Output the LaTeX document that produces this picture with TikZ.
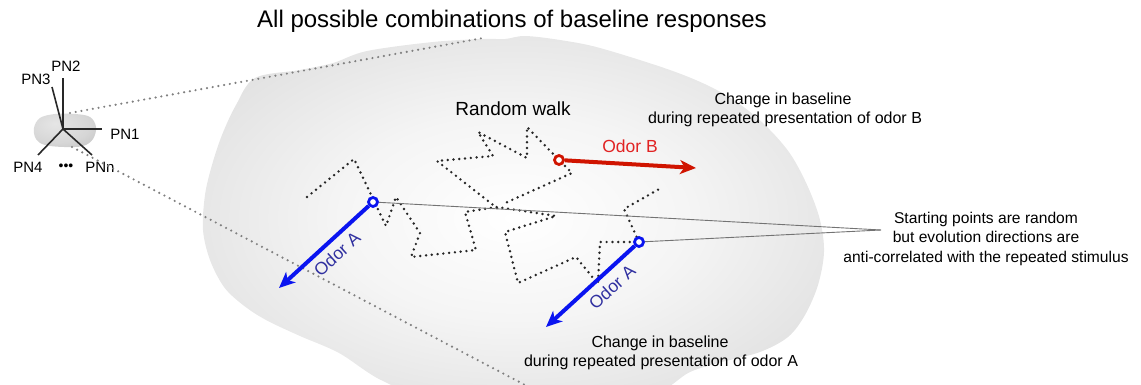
\documentclass[tikz,border=0pt]{standalone}
\usepackage{fontspec}
\setmainfont{Liberation Sans}
\usetikzlibrary{arrows.meta}

\definecolor{redB}{RGB}{208,20,0}
\definecolor{redlabel}{RGB}{225,35,35}
\definecolor{blueA}{RGB}{10,20,240}
\definecolor{bluelabel}{RGB}{48,48,160}
\definecolor{axisgray}{RGB}{40,40,40}

% soft grey fill, white in the middle
\pgfdeclareradialshading{blobfill}{\pgfpoint{0bp}{0bp}}{%
  color(0bp)=(white); color(14bp)=(black!4); color(30bp)=(black!12);
  color(50bp)=(black!22); color(72bp)=(black!23)}
\pgfdeclareradialshading{smallblob}{\pgfpoint{-8bp}{10bp}}{%
  color(0bp)=(black!10); color(25bp)=(black!16); color(50bp)=(black!28);
  color(80bp)=(black!30)}

\begin{document}
\begin{tikzpicture}[x=1pt,y=-1pt,
  walk/.style={draw=black!85, line width=2.7pt, line cap=round,
    dash pattern=on 0pt off 5.8pt},
  guide/.style={draw=black!50, line width=2.4pt, line cap=round,
    dash pattern=on 0pt off 5.8pt},
  axis/.style={draw=axisgray, line width=1.6pt},
  callout/.style={draw=black!55, line width=0.9pt},
  startpt/.style={circle, draw=#1, fill=white, line width=2.8pt,
    minimum size=9pt, inner sep=0pt},
  odorarrow/.style={draw=#1, line width=4pt,
    -{Stealth[length=16pt,width=14pt,inset=4.5pt]}},
  txt/.style={anchor=base, inner sep=0pt, font=\fontsize{#1}{#1}\selectfont},
]
\useasboundingbox (0,0) rectangle (1141,385);
\clip (0,0) rectangle (1141,385);

% response space
\shade[shading=blobfill] plot[smooth cycle, tension=0.55] coordinates {
  (255,78) (300,70) (333,63) (367,51) (433,42) (483,39) (505,39) (525,36)
  (560,40) (600,48) (670,70) (713,88) (745,108) (770,130) (791,155)
  (808,187) (820,220) (824,252) (818,285) (805,315) (788,337) (760,352)
  (722,362) (690,372) (650,394) (550,400) (430,396) (381,380) (339,353)
  (300,336) (266,320) (243,305) (224,287) (210,260) (203,230) (205,195)
  (212,165) (222,135) (236,105)};

% PN axes with their small cloud
\shade[shading=smallblob] plot[smooth cycle, tension=0.6] coordinates {
  (34,128) (40,118) (55,114) (75,114) (90,117) (96,127) (93,139)
  (83,146) (64,147) (45,145) (36,139)};

\coordinate (o) at (63,129);
\coordinate (e2) at (63,78);
\coordinate (e3) at (52,87);
\coordinate (e1) at (102,129);
\coordinate (e4) at (38,155);
\coordinate (en) at (92,155);
\draw[axis] (o) -- (e2);
\draw[axis] (o) -- (e3);
\draw[axis] (o) -- (e1);
\draw[axis] (o) -- (e4);
\draw[axis] (o) -- (en);

\node[txt=15] (pn2) at (66,72) {PN2};
\node[txt=15] (pn3) at (36,85) {PN3};
\node[txt=15] (pn1) at (125,140) {PN1};
\node[txt=15] (pn4) at (28,173) {PN4};
\node[txt=14] (pndots) at (66,171) {•••};
\node[txt=15] (pnn) at (100,173) {PNn};

% zoom lines from the small cloud to the enlarged space
\coordinate (g1) at (70,113);
\coordinate (g1e) at (483,38);
\coordinate (g2) at (72,147);
\coordinate (g2e) at (527,386);
\draw[guide] (g1) -- (g1e);
\draw[guide] (g2) -- (g2e);

% title
\node[txt=24] (title) at (512,28) {All possible combinations of baseline responses};

% random walks
\node[txt=19] (rw) at (513,116) {Random walk};
\draw[walk] (307,197) -- (354,159) -- (386,226) -- (396,197) -- (420,233)
  -- (411,257) -- (476,250) -- (465,212) -- (497,207) -- (556,216)
  -- (505,232) -- (518,283) -- (576,257) -- (598,284) -- (600,242) -- (639,242);
\draw[walk] (639,242) -- (624,209) -- (661,188);
\draw[walk] (497,208) -- (437,161) -- (493,156) -- (478,132) -- (527,158)
  -- (527,127) -- (559,160) -- (572,173) -- (503,204);

% starting points
\node[startpt=redB] (cB) at (559,160) {};
\node[startpt=blueA] (cA1) at (373,202) {};
\node[startpt=blueA] (cA2) at (639,242) {};

% callout to the note
\coordinate (note) at (881,230);
\draw[callout] (cA1) -- (note);
\draw[callout] (cA2) -- (note);

% odor-evoked changes
\coordinate (tB) at (696,168);
\coordinate (tA1) at (279,288);
\coordinate (tA2) at (546,327);
\draw[odorarrow=redB] (cB) -- (tB);
\draw[odorarrow=blueA] (cA1) -- (tA1);
\draw[odorarrow=blueA] (cA2) -- (tA2);

\node[txt=17.5, text=redlabel] (lB) at (630,153) {Odor B};
\node[rotate=42, inner sep=0pt, text=bluelabel,
  font=\fontsize{17.5}{17.5}\selectfont] (lA1) at (337,254) {Odor A};
\node[rotate=42, inner sep=0pt, text=bluelabel,
  font=\fontsize{17.5}{17.5}\selectfont] (lA2) at (612,287) {Odor A};

% annotations
\node[txt=16] (bTop1) at (783,105) {Change in baseline};
\node[txt=16] (bTop2) at (785,124) {during repeated presentation of odor B};
\node[txt=16] (aBot1) at (660,347) {Change in baseline};
\node[txt=16] (aBot2) at (661,366.5) {during repeated presentation of odor A};
\node[txt=15.6] (n1) at (986,223) {Starting points are random};
\node[txt=15.6] (n2) at (986,242.5) {but evolution directions are};
\node[txt=15.6] (n3) at (986,262) {anti-correlated with the repeated stimulus};
\end{tikzpicture}
\end{document}
